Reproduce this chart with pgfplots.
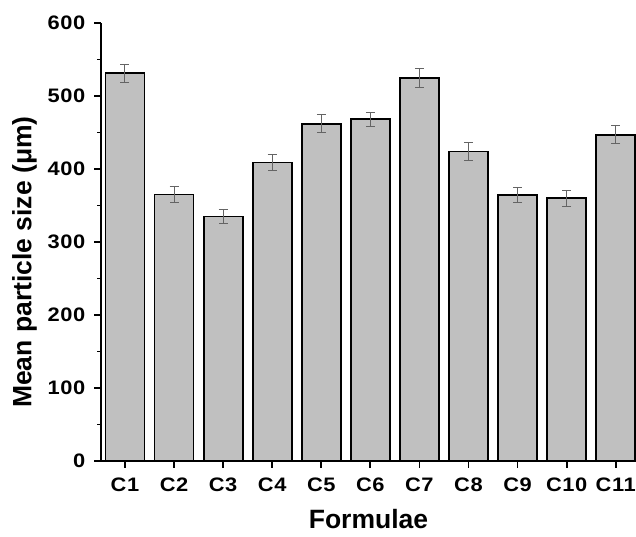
\documentclass[border=0pt]{standalone}
\usepackage{fontspec}
\setmainfont{Liberation Sans}
\newfontfamily\tickfont{Liberation Sans}[FakeStretch=1.12,LetterSpace=3]
\usepackage{pgfplots}
\pgfplotsset{compat=1.18}
\definecolor{barfill}{RGB}{192,192,192}
\definecolor{errgray}{RGB}{100,100,100}
\begin{document}
\begin{tikzpicture}[x=1pt,y=1pt]
\useasboundingbox (-101,-76) rectangle (535,461);
\begin{axis}[
  at={(0,0)}, anchor=south west,
  scale only axis, width=535pt, height=438pt,
  xmin=-0.489, xmax=10.414, ymin=0, ymax=600,
  axis x line=bottom, axis y line=left,
  axis line style={-, line width=1.8pt, black},
  xtick={0,1,2,3,4,5,6,7,8,9,10},
  xticklabels={C1,C2,C3,C4,C5,C6,C7,C8,C9,C10,C11},
  ytick={0,100,200,300,400,500,600},
  minor y tick num=1,
  tick align=outside,
  major tick length=7pt, minor tick length=4pt,
  every tick/.style={line width=1.8pt, black},
  /pgf/number format/assume math mode=true,
  tick label style={font=\fontsize{19.5}{22}\selectfont\tickfont\bfseries},
  yticklabel style={inner xsep=8.5pt},
  xticklabel style={inner ysep=10pt},
  xlabel={Formulae},
  ylabel={Mean particle size (μm)},
  label style={font=\fontsize{26.5}{30}\selectfont\bfseries},
  xlabel style={at={(axis description cs:0.5,-0.153)}, anchor=base},
  ylabel style={at={(axis description cs:-0.143,0.454)}, anchor=center},
  ybar, bar width=39pt, bar shift=0pt,
  clip=false,
]
\addplot[fill=barfill, draw=black, line width=1.8pt,
  error bars/.cd, y dir=both, y explicit,
  error bar style={line width=1pt, color=errgray},
  error mark options={rotate=90, mark size=4.5pt, line width=1pt, color=errgray}]
  table[x=x, y=y, y error=e] {
x y e
0 531 12
1 365 11
2 335 10
3 409 11
4 462 12
5 468 10
6 525 13
7 424 12
8 364 10
9 360 11
10 447 12
};
\end{axis}
\end{tikzpicture}
\end{document}
